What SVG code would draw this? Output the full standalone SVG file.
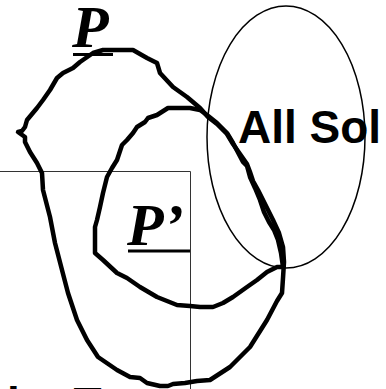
<svg xmlns="http://www.w3.org/2000/svg" width="386" height="389" viewBox="0 0 386 389">
<style>
.loop{fill:none;stroke:#000;stroke-width:4.5;stroke-linejoin:round;stroke-linecap:round}
.thin{fill:none;stroke:#000;stroke-width:1.5}
.frame{fill:none;stroke:#333;stroke-width:1}
.lbl{font-family:"Liberation Serif","Times New Roman",serif;font-weight:bold;font-style:italic;font-size:60px;fill:#000}
.sans{font-family:"Liberation Sans",Arial,sans-serif;font-weight:bold;font-size:46px;fill:#000}
</style>
<rect width="386" height="389" fill="#fff"/>
<g id="frame">
<path class="frame" d="M0,171.5 H190.5 V389"/>
</g>
<g id="all-sol">
<text class="sans" x="238" y="143">All Sol</text>
<ellipse class="thin" cx="286" cy="137" rx="79" ry="131"/>
</g>
<g id="bottom-label">
<text class="sans" x="7" y="420">ity T</text>
</g>
<g id="connectors">
<path id="P-loop" class="loop" d="M103,50 L133,50 L147,58 L157,63 L160,73 L173,87 L187,97 L200,108 L208,117 L217,124 L227,134 L233,144 L240,154 L247,164 L250,172 L253,181 L258,190 L263,200 L268,210 L273,220 L279,233 L283,247 L284,262 L283,278 L282,293 L277,301 L267,320 L250,347 L230,367 L210,380 L197,381 L185,383 L173,384 L168,386 L160,386 L147,383 L140,378 L130,377 L117,370 L98,357 L87,340 L77,320 L68,293 L62,270 L55,243 L50,217 L43,190 L42,173 L37,163 L30,152 L25,142 L25,137 L18,132 L22,131 L25,127 L27,120 L37,108 L43,100 L50,90 L57,78 L63,73 L73,68 L80,62 L93,53 Z"/>
<path id="P2-loop" class="loop" d="M168,108 L190,108 L200,110 L207,115 L217,123 L227,133 L233,143 L243,162 L247,166 L250,177 L255,188 L260,200 L264,212 L269,222 L274,230 L278,240 L281,253 L283,267 L277,267 L267,272 L257,280 L247,287 L240,292 L233,297 L223,303 L213,307 L200,307 L190,306 L177,305 L157,297 L140,287 L127,278 L117,273 L103,260 L95,253 L95,227 L97,220 L100,207 L103,193 L107,177 L112,168 L117,160 L122,145 L127,140 L133,133 L137,127 L145,122 L148,118 L157,115 Z"/>
</g>
<g id="P">
<text class="lbl" x="72" y="47">P</text>
<rect x="73" y="53" width="40" height="3"/>
</g>
<g id="P-prime">
<text class="lbl" x="127" y="245">P’</text>
<rect x="128" y="249.5" width="62" height="3"/>
</g>
</svg>
